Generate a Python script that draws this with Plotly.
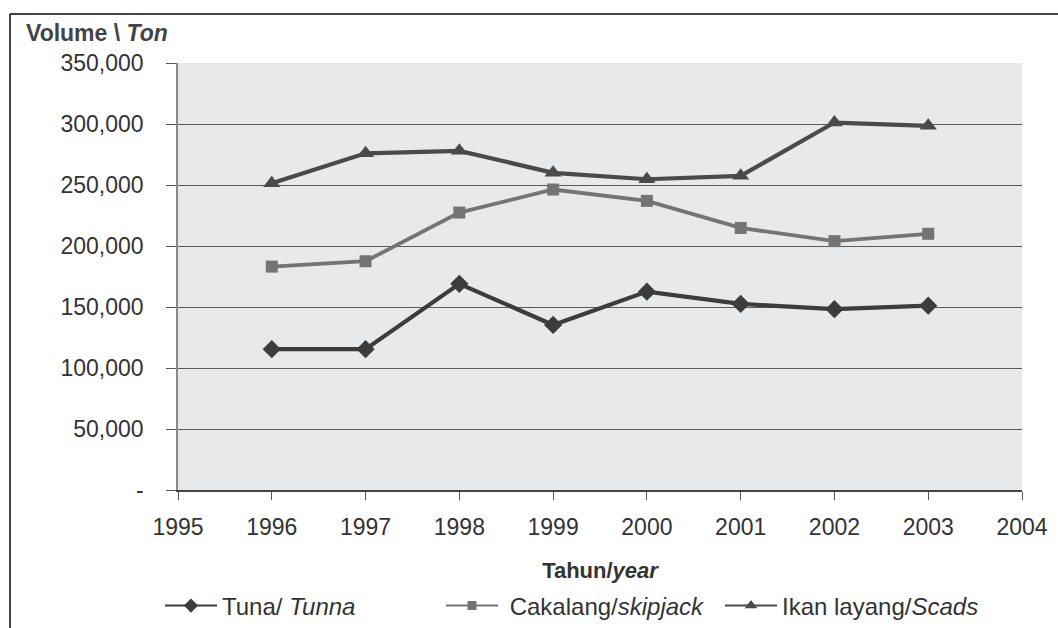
import plotly.graph_objects as go

years = [1996, 1997, 1998, 1999, 2000, 2001, 2002, 2003]
tuna = [115400, 115400, 169000, 135300, 162600, 152500, 148200, 151100]
skipjack = [183100, 187500, 227400, 246300, 237000, 214800, 204000, 210000]
scads = [251500, 276000, 278000, 260000, 254700, 257500, 301200, 298500]

x_ticks = list(range(1995, 2005))
y_ticks = [0, 50000, 100000, 150000, 200000, 250000, 300000, 350000]
y_labels = ["-", "50,000", "100,000", "150,000", "200,000", "250,000", "300,000", "350,000"]

series = [
    ("Tuna/ <i>Tunna</i>", tuna, "#3c3c3c", "diamond", 14, 4.2, 11, "legend2", 160),
    (" Cakalang/<i>skipjack</i>", skipjack, "#747474", "square", 12, 3.8, 9, "legend3", 441),
    ("Ikan layang/<i>Scads</i>", scads, "#4a4a4a", "triangle-up", 15, 4.2, 11, "legend4", 720),
]

W, H = 1058, 628
L, R, T, B = 178, 1022, 63, 490

def px(xp):
    return (xp - L) / (R - L)

def py(yp):
    return (B - yp) / (B - T)

font = "Liberation Sans, Arial, sans-serif"

fig = go.Figure()
legends = {}
for name, vals, col, sym, msize, lw, lsize, leg, lx in series:
    fig.add_trace(go.Scatter(x=years, y=vals, name=name, mode="lines+markers",
                             line=dict(color=col, width=lw),
                             marker=dict(symbol=sym, size=msize, color=col),
                             showlegend=False))
    # legend entry with thinner line, as in the reference
    fig.add_trace(go.Scatter(x=[None], y=[None], name=name, mode="lines+markers",
                             line=dict(color=col, width=2),
                             marker=dict(symbol=sym, size=lsize, color=col),
                             legend=leg, showlegend=True))
    legends[leg] = dict(orientation="h", font=dict(family=font, size=24, color="#333"),
                        bgcolor="rgba(0,0,0,0)", xanchor="left", yanchor="middle",
                        xref="container", yref="container",
                        x=lx / W, y=(H - 606) / H,
                        itemwidth=52, tracegroupgap=0)

fig.update_layout(
    width=W, height=H,
    margin=dict(l=L, r=W - R, t=T, b=H - B, autoexpand=False),
    paper_bgcolor="white",
    plot_bgcolor="#e8e9eb",
    showlegend=True,
    font=dict(family=font, size=23, color="#333"),
    xaxis=dict(range=[1995, 2004], tickvals=x_ticks, ticks="outside", ticklen=8,
               tickcolor="#555", showgrid=False, showline=True, linecolor="#444", linewidth=1.5,
               zeroline=False, ticklabelstandoff=8,
               tickfont=dict(size=23, color="#333"),
               title=dict(text="<b>Tahun/<i>year</i></b>", standoff=26,
                          font=dict(size=22, color="#333"))),
    yaxis=dict(range=[0, 350000], tickvals=y_ticks, ticktext=y_labels, ticks="outside",
               ticklen=10, tickcolor="#555", showgrid=True, gridcolor="#5a5a5a", gridwidth=1.2,
               showline=True, linecolor="#8a8a8a", linewidth=1.5, zeroline=False,
               ticklabelstandoff=18, tickfont=dict(size=23, color="#333")),
    annotations=[dict(text="<b>Volume \\ <i>Ton</i></b>", x=px(24), y=py(33), xref="paper",
                      yref="paper", xanchor="left", yanchor="middle", showarrow=False,
                      font=dict(size=23, color="#444"))],
    shapes=[
        dict(type="line", xref="paper", yref="paper", x0=px(10), x1=px(1062), y0=py(14), y1=py(14),
             line=dict(color="#444", width=2)),
        dict(type="line", xref="paper", yref="paper", x0=px(10), x1=px(10), y0=py(14), y1=py(632),
             line=dict(color="#444", width=2)),
    ],
    **legends,
)

fig.write_html("out.html", config={"displayModeBar": False},
               post_script="document.body.style.margin='0';")
